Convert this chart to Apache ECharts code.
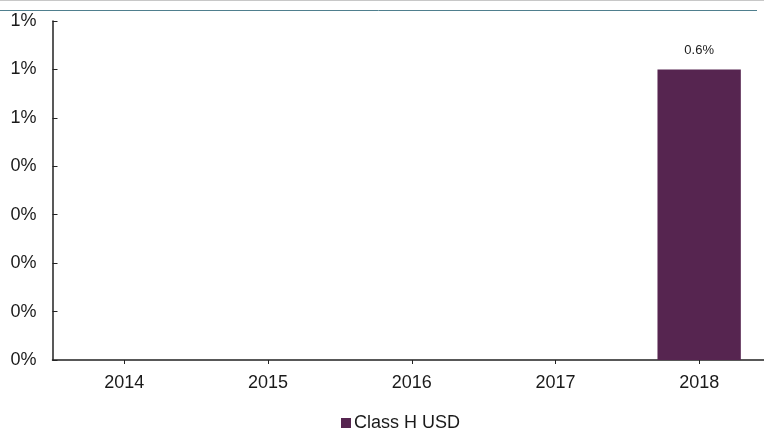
<!DOCTYPE html>
<html>
<head>
<meta charset="utf-8">
<script src="https://cdn.jsdelivr.net/npm/echarts@6/dist/echarts.min.js"></script>
<style>
html,body{margin:0;padding:0;background:#fff;}
#chart{width:764px;height:431px;}
</style>
</head>
<body>
<div id="chart"></div>
<script>
var categories = ['2014', '2015', '2016', '2017', '2018'];
var seriesName = 'Class H USD';
var values = [null, null, null, null, 0.6];
var yTickValues = [0, 0.1, 0.2, 0.3, 0.4, 0.5, 0.6, 0.7];
var yTickLabels = ['0%', '0%', '0%', '0%', '0%', '1%', '1%', '1%'];

var chart = echarts.init(document.getElementById('chart'), null, {renderer: 'canvas'});
var font = 'Liberation Sans, Arial, sans-serif';
chart.setOption({
  animation: false,
  backgroundColor: '#fff',
  graphic: [
    {type: 'line', shape: {x1: 0, y1: 0.5, x2: 764, y2: 0.5}, style: {stroke: '#c8c8c8', lineWidth: 1}},
    {type: 'line', shape: {x1: 0, y1: 10.5, x2: 757, y2: 10.5}, style: {stroke: '#4f7f8e', lineWidth: 1}}
  ],
  grid: {left: 52.5, width: 718.5, top: 21, bottom: 71, containLabel: false, outerBoundsMode: 'none'},
  legend: {
    left: 336,
    top: 409,
    icon: 'rect',
    itemWidth: 10,
    itemHeight: 10,
    itemGap: 10,
    textStyle: {fontFamily: font, fontSize: 18, color: '#1a1a1a', padding: [0, 0, 0, -2]},
    data: [seriesName]
  },
  xAxis: {
    type: 'category',
    data: categories,
    axisLine: {lineStyle: {color: '#222', width: 1.5}},
    axisTick: {show: true, alignWithLabel: true, length: 4, lineStyle: {color: '#222'}},
    axisLabel: {fontFamily: font, fontSize: 18, color: '#1a1a1a', margin: 14},
    splitLine: {show: false}
  },
  yAxis: {
    type: 'value',
    min: 0,
    max: 0.7,
    interval: 0.1,
    axisLine: {show: true, lineStyle: {color: '#222', width: 1.5}},
    axisTick: {show: true, inside: true, length: 5, lineStyle: {color: '#222'}},
    axisLabel: {
      fontFamily: font, fontSize: 18, color: '#1a1a1a', margin: 16,
      formatter: function (v) {
        var idx = Math.round(v * 10);
        return yTickLabels[idx] !== undefined ? yTickLabels[idx] : '';
      }
    },
    splitLine: {show: false}
  },
  series: [{
    name: seriesName,
    type: 'bar',
    data: values,
    barWidth: '58%',
    itemStyle: {color: '#562550'},
    label: {
      show: true,
      position: 'top',
      distance: 13,
      fontFamily: font,
      fontSize: 13,
      color: '#1a1a1a',
      formatter: function (p) { return p.value == null ? '' : p.value.toFixed(1) + '%'; }
    }
  }]
});
</script>
</body>
</html>
